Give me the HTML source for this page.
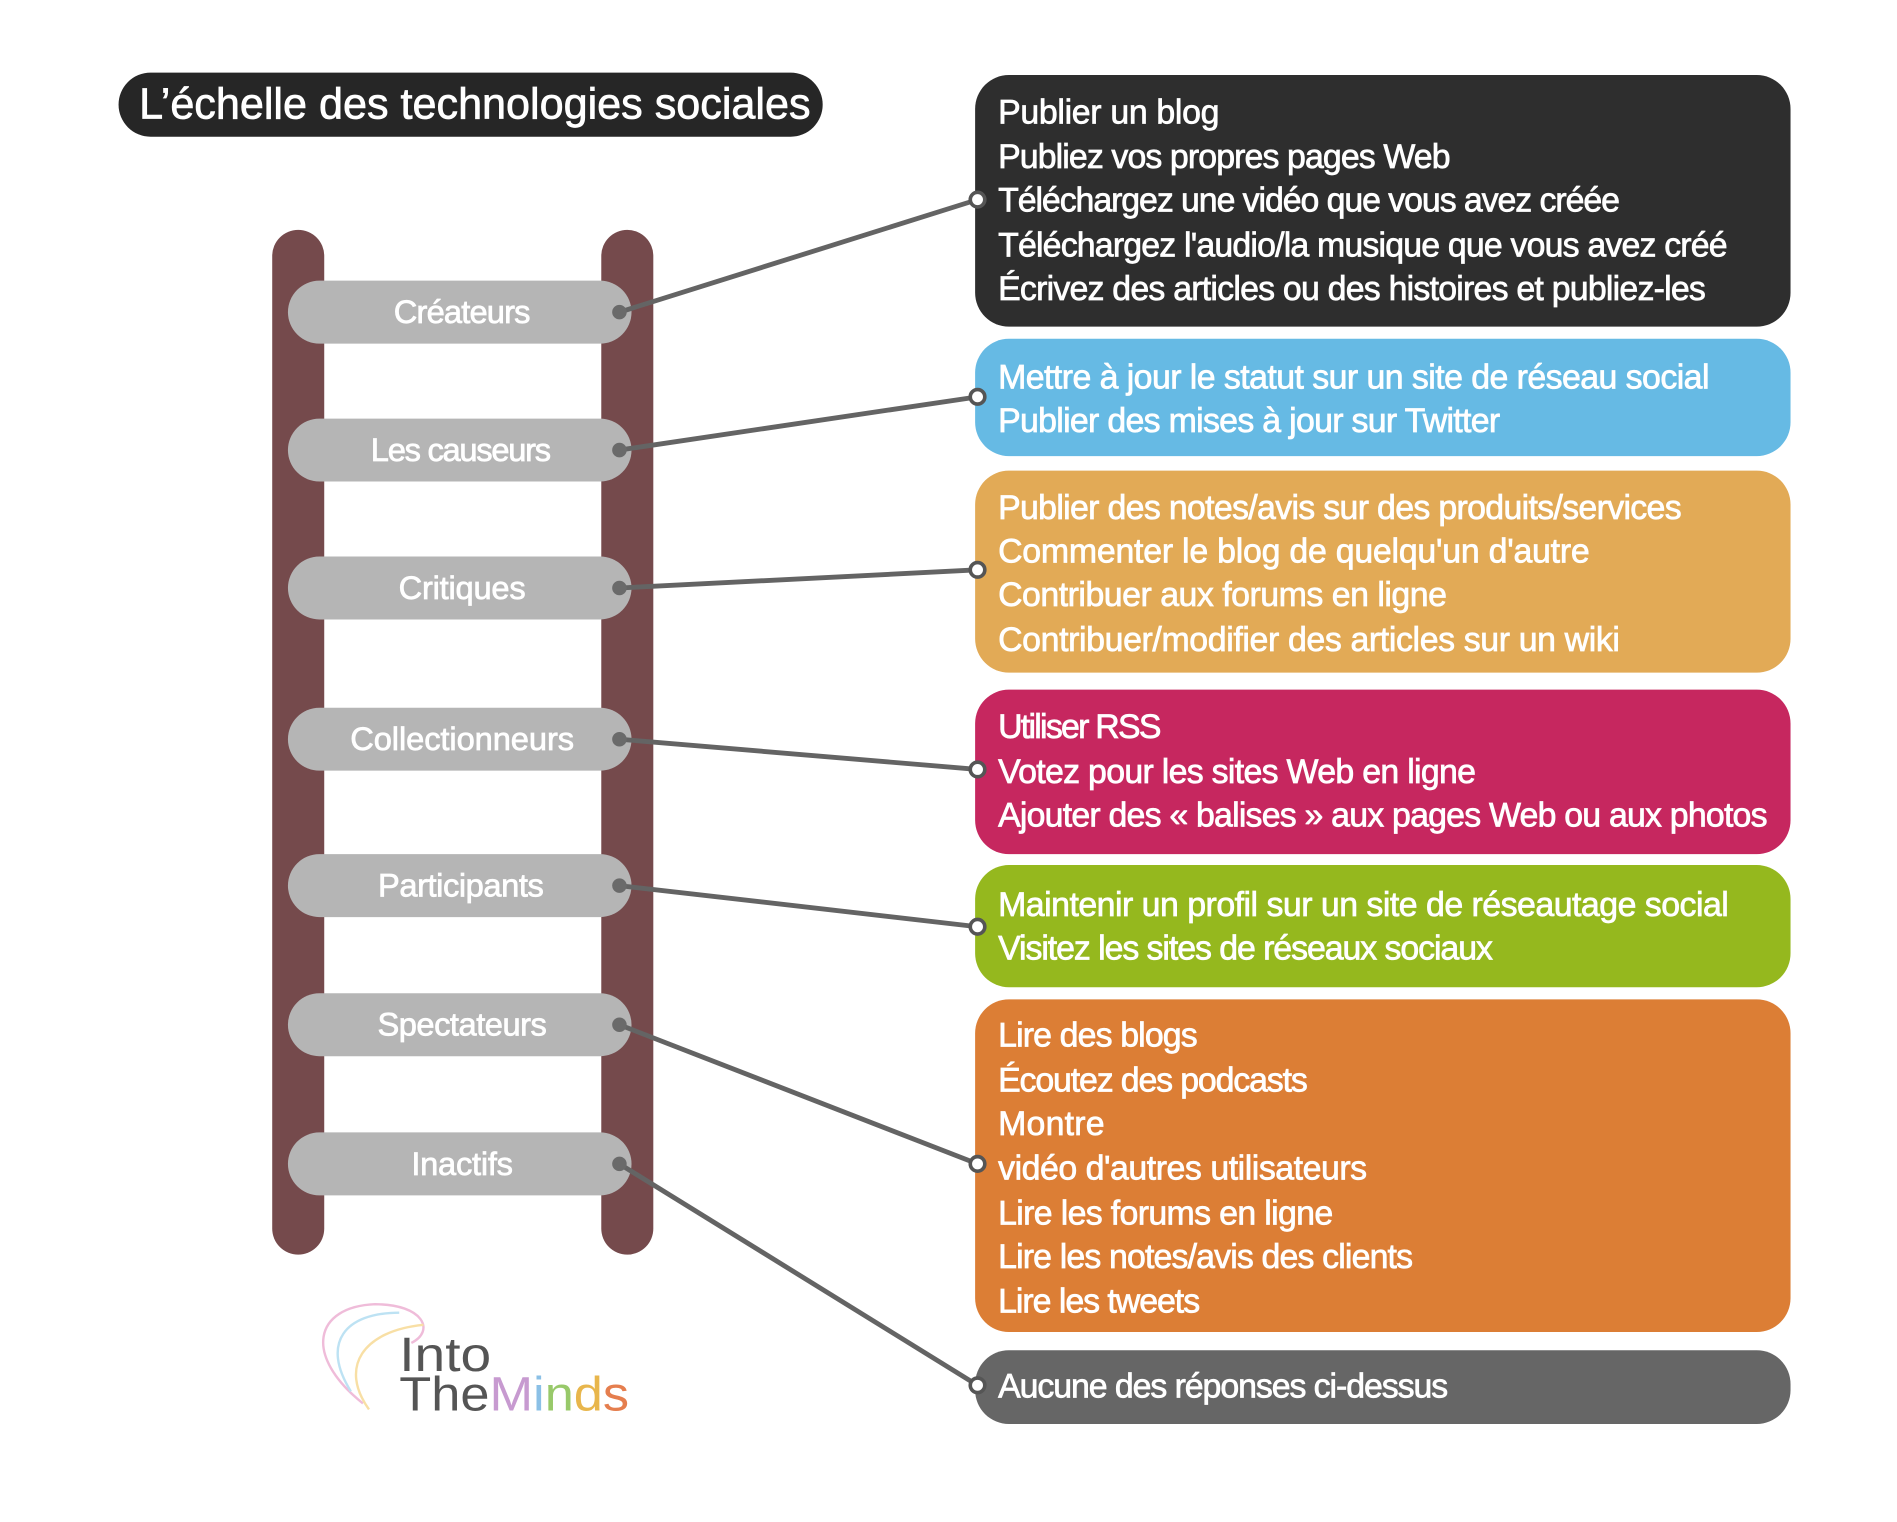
<!DOCTYPE html>
<html><head><meta charset="utf-8"><style>
html,body{margin:0;padding:0;background:#fff;}
svg{display:block;}
text{font-family:"Liberation Sans Narrow","Liberation Sans",sans-serif;}
</style></head><body>
<svg width="1897" height="1522" viewBox="0 0 1568 1258" preserveAspectRatio="none" xmlns="http://www.w3.org/2000/svg">
<rect width="1568" height="1258" fill="#fff"/>
<!-- title -->
<rect x="98" y="60" width="582" height="53" rx="26.5" fill="#262626"/>
<text x="115" y="98" font-size="36" fill="#fff" stroke="#fff" stroke-width="0.6" textLength="555" lengthAdjust="spacingAndGlyphs">L’échelle des technologies sociales</text>
<!-- rails -->
<rect x="225" y="190" width="43" height="847" rx="21.5" fill="#754a4c"/>
<rect x="497" y="190" width="43" height="847" rx="21.5" fill="#754a4c"/>
<!-- rungs -->
<g fill="#b5b5b5">
<rect x="238" y="232" width="284" height="52" rx="26"/>
<rect x="238" y="346" width="284" height="52" rx="26"/>
<rect x="238" y="460" width="284" height="52" rx="26"/>
<rect x="238" y="585" width="284" height="52" rx="26"/>
<rect x="238" y="706" width="284" height="52" rx="26"/>
<rect x="238" y="821" width="284" height="52" rx="26"/>
<rect x="238" y="936" width="284" height="52" rx="26"/>
</g>
<g fill="#fff" stroke="#fff" stroke-width="0.6" font-size="27" text-anchor="middle" lengthAdjust="spacingAndGlyphs">
<text x="382" y="267" textLength="113">Créateurs</text>
<text x="381" y="381" textLength="149">Les causeurs</text>
<text x="382" y="495" textLength="105">Critiques</text>
<text x="382" y="620" textLength="185">Collectionneurs</text>
<text x="381" y="741" textLength="137">Participants</text>
<text x="382" y="856" textLength="140">Spectateurs</text>
<text x="382" y="971" textLength="84">Inactifs</text>
</g>
<!-- boxes -->
<rect x="806" y="62" width="674" height="208" rx="28" fill="#2e2e2e"/>
<rect x="806" y="280" width="674" height="97" rx="28" fill="#66bae4"/>
<rect x="806" y="389" width="674" height="167" rx="28" fill="#e2aa56"/>
<rect x="806" y="570" width="674" height="136" rx="28" fill="#c6275f"/>
<rect x="806" y="715" width="674" height="101" rx="28" fill="#95b81e"/>
<rect x="806" y="826" width="674" height="275" rx="28" fill="#dc7e35"/>
<rect x="806" y="1116" width="674" height="61" rx="28" fill="#666666"/>
<!-- connectors -->
<g stroke="#646464" stroke-width="4" fill="none">
<line x1="512" y1="258" x2="808" y2="165"/>
<line x1="512" y1="372" x2="808" y2="328"/>
<line x1="512" y1="486" x2="808" y2="471"/>
<line x1="512" y1="611" x2="808" y2="636"/>
<line x1="512" y1="732" x2="808" y2="766"/>
<line x1="512" y1="847" x2="808" y2="962"/>
<line x1="512" y1="962" x2="808" y2="1145"/>
</g>
<g fill="#fff" stroke="#555" stroke-width="3">
<circle cx="808" cy="165" r="6"/><circle cx="808" cy="328" r="6"/><circle cx="808" cy="471" r="6"/>
<circle cx="808" cy="636" r="6"/><circle cx="808" cy="766" r="6"/><circle cx="808" cy="962" r="6"/><circle cx="808" cy="1145" r="6"/>
</g>
<g fill="#6a6a6a">
<circle cx="512" cy="258" r="6"/><circle cx="512" cy="372" r="6"/><circle cx="512" cy="486" r="6"/>
<circle cx="512" cy="611" r="6"/><circle cx="512" cy="732" r="6"/><circle cx="512" cy="847" r="6"/><circle cx="512" cy="962" r="6"/>
</g>
<!-- box text -->
<g fill="#fff" stroke="#fff" stroke-width="0.6" font-size="28" lengthAdjust="spacingAndGlyphs">
<text x="825" y="102" textLength="183">Publier un blog</text>
<text x="825" y="139" textLength="374">Publiez vos propres pages Web</text>
<text x="825" y="175" textLength="514">Téléchargez une vidéo que vous avez créée</text>
<text x="825" y="212" textLength="603">Téléchargez l'audio/la musique que vous avez créé</text>
<text x="825" y="248" textLength="585">Écrivez des articles ou des histoires et publiez-les</text>
<text x="825" y="321" textLength="588">Mettre à jour le statut sur un site de réseau social</text>
<text x="825" y="357" textLength="415">Publier des mises à jour sur Twitter</text>
<text x="825" y="429" textLength="565">Publier des notes/avis sur des produits/services</text>
<text x="825" y="465" textLength="489">Commenter le blog de quelqu'un d'autre</text>
<text x="825" y="501" textLength="371">Contribuer aux forums en ligne</text>
<text x="825" y="538" textLength="514">Contribuer/modifier des articles sur un wiki</text>
<text x="825" y="610" textLength="135">Utiliser RSS</text>
<text x="825" y="647" textLength="395">Votez pour les sites Web en ligne</text>
<text x="825" y="683" textLength="636">Ajouter des « balises » aux pages Web ou aux photos</text>
<text x="825" y="757" textLength="604">Maintenir un profil sur un site de réseautage social</text>
<text x="825" y="793" textLength="409">Visitez les sites de réseaux sociaux</text>
<text x="825" y="865" textLength="165">Lire des blogs</text>
<text x="825" y="902" textLength="256">Écoutez des podcasts</text>
<text x="825" y="938" textLength="88">Montre</text>
<text x="825" y="975" textLength="305">vidéo d'autres utilisateurs</text>
<text x="825" y="1012" textLength="277">Lire les forums en ligne</text>
<text x="825" y="1048" textLength="343">Lire les notes/avis des clients</text>
<text x="825" y="1085" textLength="167">Lire les tweets</text>
<text x="825" y="1155" textLength="372">Aucune des réponses ci-dessus</text>
</g>
<!-- logo -->
<g fill="none" stroke-width="2" opacity="0.5">
<path d="M300 1160 C250 1120 260 1080 310 1078 C350 1078 360 1100 340 1110" stroke="#e07bb5"/>
<path d="M290 1150 C265 1110 285 1085 330 1085" stroke="#7ec6e8"/>
<path d="M305 1165 C280 1130 300 1100 350 1095" stroke="#f2c14e"/>
</g>
<text x="330" y="1133" font-size="40" fill="#555" style="font-family:'Liberation Sans',sans-serif" textLength="76" lengthAdjust="spacingAndGlyphs">Into</text>
<text x="330" y="1166" font-size="40" style="font-family:'Liberation Sans',sans-serif" textLength="190" lengthAdjust="spacingAndGlyphs"><tspan fill="#555">The</tspan><tspan fill="#c79ad0">M</tspan><tspan fill="#8bc0e6">i</tspan><tspan fill="#98c96a">n</tspan><tspan fill="#e8b64c">d</tspan><tspan fill="#e57e4e">s</tspan></text>
</svg>
</body></html>
